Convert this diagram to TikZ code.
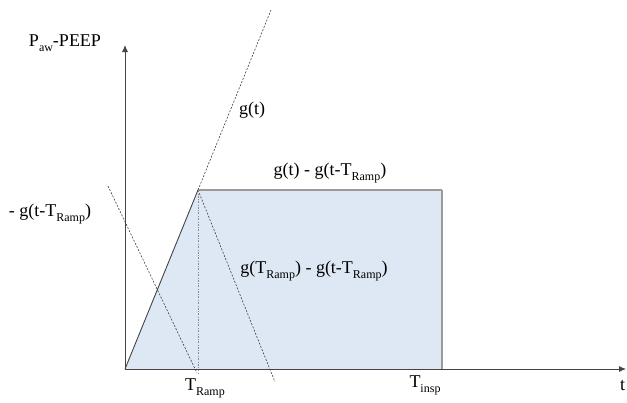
\documentclass[tikz,border=0pt]{standalone}
\usepackage{fontspec}
\setmainfont{Liberation Serif}
\usetikzlibrary{arrows.meta}
\definecolor{areafill}{HTML}{DEE8F4}
\definecolor{edgegray}{HTML}{9A9A9A}
\definecolor{axisgray}{HTML}{444444}
\newcommand{\lowsub}[1]{\raisebox{-0.28em}{\fontsize{12}{14}\selectfont #1}}
\begin{document}
\begin{tikzpicture}[x=1pt,y=-1pt,
  lbl/.style={font=\fontsize{18}{21}\selectfont, inner sep=0pt},
  axis/.style={draw=axisgray, line width=0.8pt, -{Latex[length=7pt,width=6pt]}},
  guide/.style={draw=black!75, line width=0.6pt, dash pattern=on 2pt off 1.5pt},
  vguide/.style={draw=black!45, line width=0.7pt, dash pattern=on 2pt off 1.5pt on 0.6pt off 1.5pt}]
\useasboundingbox (0,0) rectangle (627,402);
\coordinate (O) at (125,369);
\coordinate (P) at (198,190);
\coordinate (Q) at (442,190);
\coordinate (R) at (442,369);
\coordinate (ytip) at (125,45);
\coordinate (xtip) at (626,369);
\coordinate (gtop) at (271,10);
\coordinate (mstart) at (108,186);
\coordinate (mend) at (197,373);
\coordinate (hend) at (275,382);
\coordinate (vend) at (198,373);
% shaded area
\fill[areafill] (O) -- (P) -- (Q) -- (R) -- cycle;
\draw[edgegray, line width=1.8pt] (P) -- (Q);
\draw[edgegray, line width=1.2pt] (Q) -- (R);
\draw[axisgray, line width=0.9pt] (O) -- (P);
% guides
\draw[guide] (P) -- (gtop);
\draw[guide] (mstart) -- (mend);
\draw[guide] (P) -- (hend);
\draw[vguide] (P) -- (vend);
% axes
\draw[axis] (O) -- (ytip);
\draw[axis] (O) -- (xtip);
% labels
\node[lbl] (ylab) at (65,43) {P\lowsub{aw}-PEEP};
\node[lbl] (glab) at (252,110) {g(t)};
\node[lbl] (plat) at (330,173) {g(t) - g(t-T\lowsub{Ramp})};
\node[lbl] (mlab) at (50,214) {- g(t-T\lowsub{Ramp})};
\node[lbl] (hlab) at (314,271) {g(T\lowsub{Ramp}) - g(t-T\lowsub{Ramp})};
\node[lbl] (tramp) at (205,388) {T\lowsub{Ramp}};
\node[lbl] (tinsp) at (425,385) {T\lowsub{insp}};
\node[lbl, anchor=west] (tlab) at (620,386) {t};
\end{tikzpicture}
\end{document}
